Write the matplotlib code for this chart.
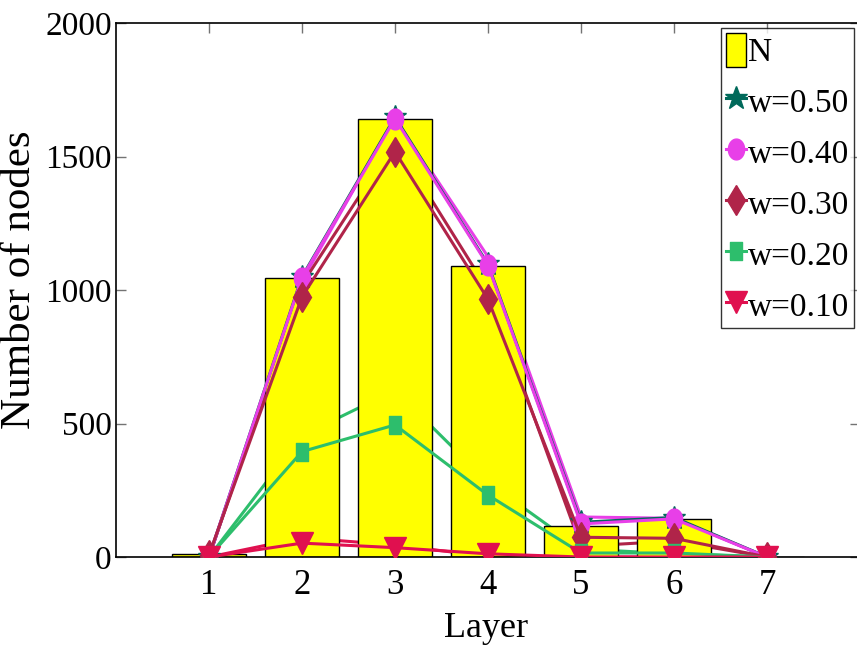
import numpy as np
import matplotlib
matplotlib.use("Agg")
import matplotlib.pyplot as plt

plt.rcParams["font.family"] = ["Liberation Serif", "DejaVu Serif"]

# node counts per layer
layers = [1, 2, 3, 4, 5, 6, 7]
nodes_n = [10, 1045, 1640, 1092, 116, 142, 1]

# nodes reached for each weight (marked curves)
w_labels = ["w=0.50", "w=0.40", "w=0.30", "w=0.20", "w=0.10"]
w050 = [0, 1050, 1648, 1097, 130, 148, 0]
w040 = [0, 1047, 1643, 1093, 124, 143, 0]
w030 = [8, 975, 1519, 966, 74, 70, 0]
w020 = [0, 395, 495, 232, 15, 15, 0]
w010 = [0, 52, 35, 12, 0, 0, 0]

# earlier run, drawn underneath the bars
w040_prev = [0, 1035, 1650, 1125, 150, 145, 0]
w030_prev = [0, 1022, 1558, 1000, 40, 60, 0]
w020_prev = [0, 455, 625, 280, 30, 12, 0]
w010_prev = [0, 72, 45, 2, 0, 0, 0]

colors = ["#00695A", "#E83FE8", "#B02449", "#2DBE6C", "#E0104F"]

# squeezed marker shapes
t = np.linspace(0, 2 * np.pi, 40)
ellipse = list(zip(0.39 * np.cos(t), 0.5 * np.sin(t)))
rect = [(-0.35, -0.5), (0.35, -0.5), (0.35, 0.5), (-0.35, 0.5), (-0.35, -0.5)]
markers = ["*", ellipse, "d", rect, "v"]
msizes = [17, 15, 15, 13, 16]

fig = plt.figure(figsize=(8.57, 6.46), dpi=100)
ax = fig.add_axes([116 / 857, 1 - 557 / 646, 744 / 857, (557 - 23.3) / 646])
ax.set_axisbelow(True)

for vals, c in zip([w040_prev, w030_prev, w020_prev, w010_prev], colors[1:]):
    ax.plot(layers, vals, color=c, linewidth=2.2, zorder=1)

bars = ax.bar(layers, nodes_n, width=0.8, color="#FFFF00", edgecolor="black",
              linewidth=1, zorder=2, label="N")

handles = [bars]
series = [w050, w040, w030, w020, w010]
for vals, c, m, ms, lab in zip(series, colors, markers, msizes, w_labels):
    ln, = ax.plot(layers, vals, color=c, linewidth=2.2, marker=m, markersize=ms,
                  markeredgecolor=c, markerfacecolor=c, label=lab, zorder=3)
    handles.append(ln)

ax.set_xlim(0, 8)
ax.set_ylim(0, 2000)
ax.set_xticks(layers)
ax.set_yticks([0, 500, 1000, 1500, 2000])
ax.tick_params(direction="in", length=7, width=1, color="0.45",
               top=True, right=True, labelsize=25)
ax.tick_params(axis="x", pad=9)
ax.tick_params(axis="y", pad=3, labelsize=24)
for s in ax.spines.values():
    s.set_linewidth(1.2)

ax.set_xlabel("Layer", fontsize=26)
ax.xaxis.set_label_coords(0.497, -0.103)
ax.set_ylabel("Number of nodes", fontsize=31)
ax.yaxis.set_label_coords(-0.104, 0.52)

leg = ax.legend(handles=handles, loc="upper right",
                bbox_to_anchor=(854 / 857, 1 - 28 / 646),
                bbox_transform=fig.transFigure, fontsize=24, frameon=True,
                fancybox=False, edgecolor="black", borderpad=0.15,
                borderaxespad=0, handlelength=0.6, handleheight=1.2,
                handletextpad=0.05, labelspacing=0.47)
leg.get_frame().set_linewidth(1)

fig.savefig("out.png", dpi=100)
